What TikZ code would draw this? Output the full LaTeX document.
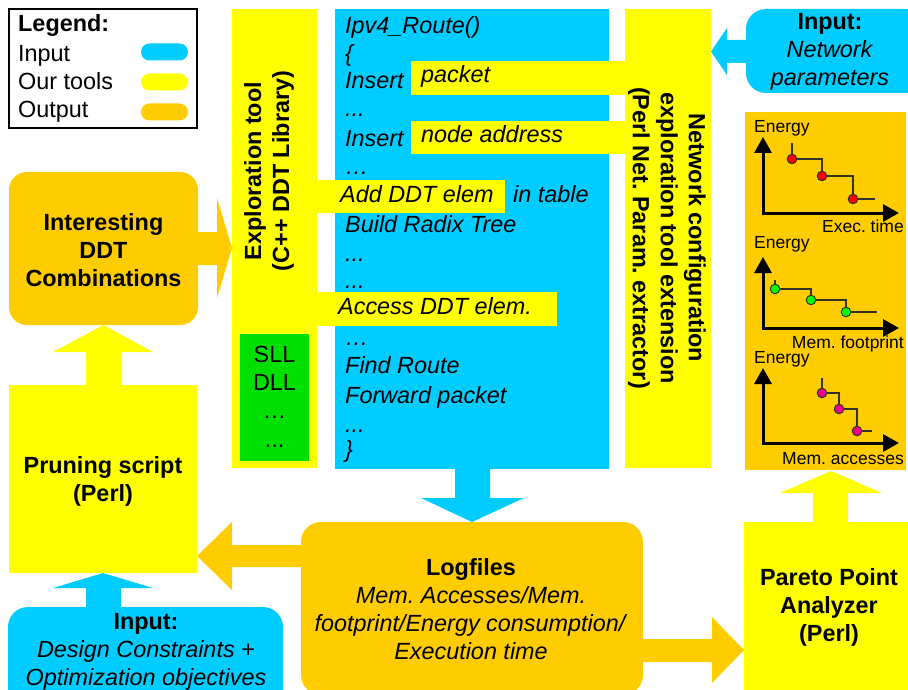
\documentclass[tikz,border=0pt]{standalone}
\usepackage{fontspec}
\setmainfont{Liberation Sans}
\usetikzlibrary{arrows.meta}
\frenchspacing
\definecolor{cblue}{RGB}{0,204,255}
\definecolor{cyell}{RGB}{255,255,0}
\definecolor{corange}{RGB}{255,204,0}
\definecolor{cgreen}{RGB}{0,224,0}
\definecolor{cline}{RGB}{50,50,40}
\tikzset{
  box/.style={inner sep=0pt, outer sep=0pt, draw=none, anchor=north west},
  bigtxt/.style={font=\fontsize{23.4}{28}\selectfont\bfseries, align=center, inner sep=0pt},
  mixtxt/.style={font=\fontsize{23.4}{28}\selectfont, align=center, inner sep=0pt},
  codetxt/.style={font=\fontsize{23.4}{28}\selectfont\itshape, anchor=base west, inner sep=0pt},
  plaintxt/.style={font=\fontsize{23.4}{28}\selectfont, inner sep=0pt},
  smalltxt/.style={font=\fontsize{17.5}{20}\selectfont, inner sep=0pt},
  axis/.style={line width=3pt, black, {Triangle[length=16pt,width=17pt]}-{Triangle[length=16pt,width=17pt]}},
  stepline/.style={line width=1.6pt, cline},
  dot/.style={circle, inner sep=0pt, minimum size=9.5pt, draw=cline, line width=1pt},
  pill/.style={inner sep=0pt, minimum width=47pt, minimum height=17pt, rounded corners=8.5pt, draw=none}
}
\begin{document}
\begin{tikzpicture}[x=1pt,y=-1pt]
\useasboundingbox (0,0) rectangle (908,690);
\clip (0,0) rectangle (908,690);

% ---------- Legend ----------
\node[box, draw=black, line width=1.5pt, fill=white, minimum width=188pt, minimum height=119pt] (legend) at (9,9) {};
\node[bigtxt, anchor=base west] (lgt) at (18,32) {Legend:};
\node[plaintxt, anchor=base west] (lgi) at (18,62) {Input};
\node[plaintxt, anchor=base west] (lgo) at (18,90) {Our tools};
\node[plaintxt, anchor=base west] (lgu) at (18,118) {Output};
\node[pill, fill=cblue] (p1) at (164.5,52) {};
\node[pill, fill=cyell] (p2) at (164.5,82) {};
\node[pill, fill=corange] (p3) at (164.5,112) {};

% ---------- Columns ----------
\node[box, fill=cyell, minimum width=85pt, minimum height=459pt] (expl) at (232,9) {};
\node[box, fill=cblue, minimum width=274pt, minimum height=460pt] (code) at (335,9) {};
\node[box, fill=cyell, minimum width=86pt, minimum height=459pt] (netcol) at (625,9) {};
\node[box, fill=cgreen, minimum width=69pt, minimum height=127pt] (green) at (240,334) {};

\node[bigtxt, rotate=90] (expltxt) at (269,171) {Exploration tool\\(C++ DDT Library)};
\node[bigtxt, rotate=-90] (nettxt) at (667,238) {Network configuration\\exploration tool extension\\(Perl Net. Param. extractor)};

\node[plaintxt, anchor=base] (g1) at (274.5,362) {SLL};
\node[plaintxt, anchor=base] (g2) at (274.5,390) {DLL};
\node[plaintxt, anchor=base] (g3) at (274.5,418) {…};
\node[plaintxt, anchor=base] (g4) at (274.5,447) {...};

% ---------- Strips ----------
\node[box, fill=cyell, minimum width=215pt, minimum height=34pt] (s1) at (411,61) {};
\node[box, fill=cyell, minimum width=215pt, minimum height=33pt] (s2) at (411,121) {};
\node[box, fill=cyell, minimum width=189pt, minimum height=33pt] (s3) at (316,180) {};
\node[box, fill=cyell, minimum width=241pt, minimum height=34pt] (s4) at (316,292) {};

% ---------- Code ----------
\node[codetxt] (c1) at (345,34) {Ipv4\_Route()};
\node[codetxt] (c2) at (345,62) {\{};
\node[codetxt] (c3) at (345,89) {Insert};
\node[codetxt] (c3b) at (421,83) {packet};
\node[codetxt] (c4) at (345,117) {...};
\node[codetxt] (c5) at (345,147) {Insert};
\node[codetxt] (c5b) at (421,143) {node address};
\node[codetxt] (c6) at (345,175) {…};
\node[codetxt] (c7) at (340,203) {Add DDT elem};
\node[codetxt] (c7b) at (513,203) {in table};
\node[codetxt] (c8) at (345,232) {Build Radix Tree};
\node[codetxt] (c9) at (345,261) {...};
\node[codetxt] (c10) at (345,288) {...};
\node[codetxt] (c11) at (338,314) {Access DDT elem.};
\node[codetxt] (c12) at (345,345) {…};
\node[codetxt] (c13) at (345,373) {Find Route};
\node[codetxt] (c14) at (345,403) {Forward packet};
\node[codetxt] (c15) at (345,432) {...};
\node[codetxt] (c16) at (345,457) {\}};

% ---------- Left boxes ----------
\node[box, fill=corange, rounded corners=18pt, minimum width=189pt, minimum height=153pt] (inter) at (9,172) {};
\node[bigtxt] (intertxt) at (103.5,250) {Interesting\\DDT\\Combinations};
\node[box, fill=cyell, minimum width=188pt, minimum height=188pt] (prune) at (9,385) {};
\node[bigtxt] (prunetxt) at (103,481) {Pruning script\\(Perl)};
\node[box, fill=cblue, rounded corners=20pt, minimum width=275pt, minimum height=110pt] (design) at (8,607) {};
\node[mixtxt] (designtxt) at (146,652) {\textbf{Input:}\\\textit{Design Constraints +}\\\textit{Optimization objectives}};

% ---------- Bottom center / right ----------
\node[box, fill=corange, rounded corners=20pt, minimum width=342pt, minimum height=173pt] (logf) at (301,522) {};
\node[mixtxt] (logtxt) at (471,609) {\textbf{Logfiles}\\\textit{Mem. Accesses/Mem.}\\\textit{footprint/Energy consumption/}\\\textit{Execution time}};
\node[box, fill=cyell, minimum width=164pt, minimum height=168pt] (pareto) at (744,522) {};
\node[bigtxt] (paretotxt) at (829,607) {Pareto Point\\Analyzer\\(Perl)};
\node[box, fill=cblue, rounded corners=20pt, minimum width=180pt, minimum height=84pt] (netin) at (746,9) {};
\node[mixtxt] (netintxt) at (830,52) {\textbf{Input:}\\\textit{Network}\\\textit{parameters}};

% ---------- Output panel ----------
\node[box, fill=corange, minimum width=161pt, minimum height=358pt] (panel) at (745,112) {};

% graph 1
\node[smalltxt, anchor=base west] (e1) at (754,133) {Energy};
\node[smalltxt, anchor=base east] (x1) at (904,233) {Exec. time};
\coordinate (o1) at (763,213);
\draw[axis] (763,137) -- (o1) -- (899,213);
\draw[stepline] (792,143) -- (792,159) -- (822,159) -- (822,176) -- (853,176) -- (853,199) -- (875,199);
\node[dot, fill=red] (d11) at (792,159) {};
\node[dot, fill=red] (d12) at (822,176) {};
\node[dot, fill=red] (d13) at (853,199) {};

% graph 2
\node[smalltxt, anchor=base west] (e2) at (754,248) {Energy};
\node[smalltxt, anchor=base east] (x2) at (904,348) {Mem. footprint};
\coordinate (o2) at (763,328);
\draw[axis] (763,257) -- (o2) -- (899,328);
\draw[stepline] (775,280) -- (775,289) -- (811,289) -- (811,300) -- (846,300) -- (846,312) -- (877,312);
\node[dot, fill=green] (d21) at (775,289) {};
\node[dot, fill=green] (d22) at (811,300) {};
\node[dot, fill=green] (d23) at (846,312) {};

% graph 3
\node[smalltxt, anchor=base west] (e3) at (754,363) {Energy};
\node[smalltxt, anchor=base east] (x3) at (904,464) {Mem. accesses};
\coordinate (o3) at (763,443);
\draw[axis] (763,368) -- (o3) -- (899,443);
\draw[stepline] (822,378) -- (822,393) -- (839,393) -- (839,409) -- (857,409) -- (857,431) -- (872,431);
\node[dot, fill=magenta] (d31) at (822,393) {};
\node[dot, fill=magenta] (d32) at (839,409) {};
\node[dot, fill=magenta] (d33) at (857,431) {};

% ---------- Block arrows ----------
% network input -> netcol
\fill[cblue] (747,40) -- (727,40) -- (727,28) -- (netcol.east |- 0,51.5) -- (727,75) -- (727,63) -- (747,63) -- cycle;
% interesting -> exploration
\fill[corange] (197,232) -- (217,232) -- (217,198) -- (expl.west |- 0,248) -- (217,298) -- (217,265) -- (197,265) -- cycle;
% pruning -> interesting
\fill[cyell] (86,386) -- (86,352) -- (53,352) -- (inter.south |- 0,325) -- (153,352) -- (121,352) -- (121,386) -- cycle;
% design input -> pruning
\fill[cblue] (86,609) -- (86,588) -- (53,588) -- (103,573) -- (153,588) -- (121,588) -- (121,609) -- cycle;
% code -> logfiles
\fill[cblue] (455,468) -- (490,468) -- (490,498) -- (524,498) -- (472,522) -- (421,498) -- (455,498) -- cycle;
% logfiles -> pruning
\fill[corange] (302,545) -- (232,545) -- (232,522) -- (prune.east |- 0,556) -- (232,590) -- (232,567) -- (302,567) -- cycle;
% logfiles -> pareto
\fill[corange] (642,639) -- (712,639) -- (712,617) -- (pareto.west |- 0,650) -- (712,683) -- (712,662) -- (642,662) -- cycle;
% pareto -> panel
\fill[cyell] (813,523) -- (813,493) -- (780,493) -- (831,471) -- (882,493) -- (848,493) -- (848,523) -- cycle;
\end{tikzpicture}
\end{document}
